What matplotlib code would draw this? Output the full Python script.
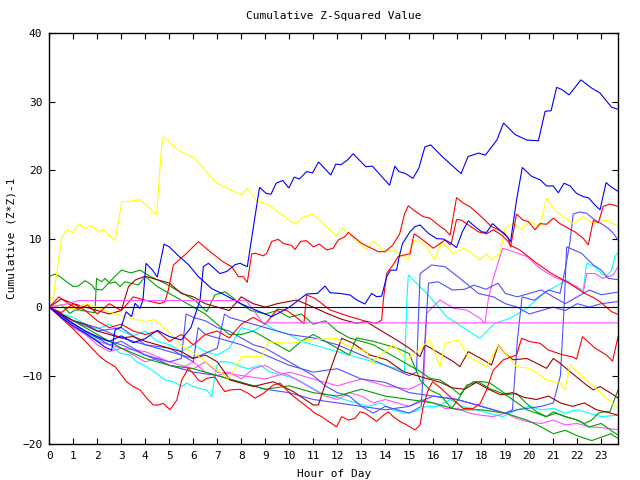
import matplotlib
matplotlib.use("Agg")
import matplotlib.pyplot as plt

title = "Cumulative Z-Squared Value"
xlabel = "Hour of Day"
ylabel = "Cumulative (Z*Z)-1"
x_ticks = list(range(24))
y_ticks = [-20, -10, 0, 10, 20, 30, 40]

blue_a_x = [0, 0.5, 1.0, 1.5, 2.0, 2.5, 3.0, 3.5, 4.0, 4.5, 5.0, 5.5, 5.9, 6.28, 6.42, 6.63, 7.11, 7.39, 7.74, 7.95, 8.25, 8.76, 9.04, 9.24, 9.45, 9.73, 9.98, 10.21, 10.42, 10.72, 10.97, 11.22, 11.73, 11.94, 12.15, 12.43, 12.66, 13.19, 13.46, 14.18, 14.40, 14.57, 14.85, 15.15, 15.40, 15.65, 15.89, 16.37, 17.16, 17.45, 17.89, 18.17, 18.65, 18.93, 19.41, 19.90, 20.38, 20.66, 20.91, 21.14, 21.35, 21.66, 22.15, 22.60, 22.94, 23.22, 23.43, 23.70]
blue_a_y = [0, -1.2, -2.4, -3.5, -4.3, -5.0, -4.2, -5.2, -4.6, -3.4, -4.3, -4.8, -3.0, 1.0, 5.9, 6.4, 4.9, 5.2, 6.2, 6.4, 5.9, 17.5, 16.6, 16.5, 18.1, 18.5, 17.4, 19.0, 18.7, 19.8, 19.6, 21.2, 19.3, 20.9, 20.8, 21.5, 22.4, 20.5, 20.6, 17.8, 20.6, 19.8, 19.5, 18.8, 20.3, 23.4, 23.7, 22.0, 19.5, 22.0, 22.5, 22.2, 24.4, 26.9, 25.2, 24.4, 24.3, 28.6, 28.7, 32.1, 31.8, 31.0, 33.2, 32.0, 31.3, 30.1, 29.2, 28.9]

blue_b_x = [0, 0.5, 1.0, 1.5, 2.0, 2.3, 2.6, 2.74, 3.0, 3.2, 3.43, 3.57, 3.78, 3.9, 4.03, 4.3, 4.5, 4.78, 5.0, 5.35, 5.8, 6.2, 6.77, 7.3, 7.95, 8.5, 8.92, 9.26, 9.6, 10.03, 10.72, 11.17, 11.49, 11.7, 12.11, 12.53, 12.81, 13.15, 13.43, 13.64, 13.85, 14.06, 14.22, 14.47, 14.58, 14.72, 15.03, 15.24, 15.45, 15.79, 16.14, 16.42, 16.70, 16.97, 17.21, 17.46, 17.74, 18.02, 18.22, 18.47, 18.78, 18.99, 19.22, 19.47, 19.71, 20.1, 20.45, 20.72, 21.0, 21.21, 21.45, 21.7, 21.97, 22.28, 22.46, 22.74, 22.95, 23.2, 23.36, 23.70]
blue_b_y = [0, -1.5, -2.8, -3.8, -5.0, -5.8, -6.3, -3.35, -2.9, -0.67, -1.4, 0.55, -0.2, 1.0, 6.4, 5.4, 4.4, 9.2, 8.8, 7.6, 6.2, 4.5, 2.7, 1.8, 0.55, -0.3, -0.9, -1.4, -0.8, 0.06, 1.91, 2.0, 3.08, 2.1, 2.0, 1.77, 1.04, 0.45, 2.0, 1.52, 1.6, 4.45, 5.4, 5.4, 7.4, 9.3, 11.0, 11.76, 12.0, 10.8, 10.0, 9.95, 9.4, 8.7, 11.0, 12.6, 11.75, 11.0, 10.9, 12.2, 11.2, 10.7, 9.56, 15.65, 20.4, 19.1, 18.6, 17.7, 17.7, 16.7, 18.1, 17.7, 16.6, 16.1, 16.0, 14.9, 14.2, 18.2, 17.7, 16.9]

red_1_x = [0, 0.4, 0.8, 1.2, 1.6, 2.0, 2.5, 3.0, 3.5, 4.0, 4.6, 4.82, 4.96, 5.17, 5.72, 6.21, 6.7, 7.25, 7.6, 7.88, 8.08, 8.25, 8.43, 8.57, 8.92, 9.06, 9.27, 9.54, 9.75, 10.1, 10.24, 10.47, 10.72, 11.0, 11.25, 11.56, 11.83, 12.04, 12.32, 12.46, 12.67, 13.02, 13.36, 13.71, 13.99, 14.3, 14.6, 14.8, 14.96, 15.17, 15.58, 15.86, 16.21, 16.49, 16.7, 16.97, 17.25, 17.53, 17.88, 18.15, 18.43, 18.78, 19.13, 19.22, 19.47, 19.75, 19.96, 20.24, 20.45, 20.72, 21.0, 21.28, 21.63, 21.9, 22.25, 22.46, 22.67, 22.88, 23.08, 23.36, 23.70]
red_1_y = [0, 1.5, 0.5, -0.3, 0.3, -1.0, 0.5, -0.5, 1.5, 1.0, 0.5, 0.8, 2.5, 6.15, 7.85, 9.56, 8.1, 6.6, 5.9, 4.45, 4.45, 3.6, 7.76, 7.86, 7.5, 7.86, 9.6, 9.9, 9.3, 9.0, 8.4, 9.6, 9.7, 8.8, 9.2, 8.35, 8.6, 9.8, 10.3, 10.9, 10.3, 9.3, 8.7, 8.1, 8.1, 9.0, 10.7, 13.6, 14.8, 14.2, 13.2, 13.0, 12.0, 11.3, 10.5, 16.0, 15.2, 14.65, 13.6, 12.7, 11.75, 11.2, 10.05, 8.8, 13.6, 12.7, 12.5, 11.3, 12.2, 12.1, 13.0, 12.2, 11.5, 11.0, 10.05, 9.07, 12.7, 12.3, 14.7, 15.06, 14.7]

red_2_x = [0, 0.5, 1.0, 1.5, 2.0, 2.5, 3.0, 3.5, 4.0, 4.5, 5.0, 5.5, 6.0, 6.5, 7.0, 7.5, 8.0, 8.5, 9.0, 9.5, 9.9, 10.3, 10.61, 10.72, 11.07, 11.7, 12.53, 13.22, 13.64, 13.85, 13.92, 14.06, 14.33, 14.54, 15.03, 15.2, 15.38, 15.72, 16.0, 16.25, 16.49, 16.7, 16.77, 16.97, 17.18, 17.46, 17.88, 18.22, 18.5, 18.85, 19.13, 19.2, 19.61, 20.24, 20.93, 21.56, 22.32, 22.67, 22.95, 23.43, 23.70]
red_2_y = [0, -0.8, 0.5, -0.5, -2.0, -3.0, -2.5, -3.5, -4.0, -3.5, -5.0, -4.0, -5.5, -4.0, -3.5, -4.5, -2.5, -1.5, -2.5, -0.3, -0.5, -1.5, -2.4, 1.77, 1.28, -0.42, -1.4, -2.1, -2.37, -1.9, 1.04, 4.94, 6.2, 7.4, 7.8, 10.7, 10.3, 9.4, 8.6, 9.2, 9.8, 9.1, 9.6, 12.8, 12.7, 12.0, 11.0, 10.7, 11.3, 10.5, 9.56, 9.07, 8.34, 6.6, 4.9, 3.7, 2.0, 1.4, 0.79, -0.67, -1.06]

red_3_x = [0, 0.5, 1.0, 1.5, 2.11, 2.39, 2.74, 2.95, 3.22, 3.5, 3.78, 4.06, 4.33, 4.54, 4.75, 5.03, 5.31, 5.52, 5.79, 6.0, 6.21, 6.35, 6.56, 6.9, 7.11, 7.32, 7.53, 7.95, 8.29, 8.57, 8.92, 9.33, 9.61, 9.75, 10.03, 10.38, 10.72, 11.07, 11.35, 11.63, 11.97, 12.18, 12.46, 12.74, 12.95, 13.15, 13.36, 13.64, 13.92, 14.13, 14.33, 14.61, 14.89, 15.24, 15.45, 15.58, 15.79, 15.97, 16.3, 16.7, 17.25, 17.67, 17.95, 18.22, 18.5, 18.92, 19.47, 19.68, 20.03, 20.45, 20.79, 21.42, 21.83, 21.97, 22.22, 22.74, 23.22, 23.47, 23.70]
red_3_y = [0, -1.6, -3.2, -5.0, -7.24, -7.97, -8.7, -9.67, -10.9, -11.6, -12.1, -13.3, -14.3, -14.3, -14.06, -15.0, -13.6, -10.65, -8.95, -9.68, -10.65, -10.9, -10.4, -10.2, -11.4, -12.35, -12.1, -12.0, -12.6, -13.3, -12.6, -11.4, -11.1, -11.6, -12.6, -13.6, -14.5, -15.5, -16.0, -16.7, -17.5, -16.0, -16.5, -16.25, -15.3, -15.5, -16.0, -16.7, -15.8, -15.3, -16.0, -16.7, -17.2, -17.95, -17.2, -14.5, -12.1, -10.9, -11.8, -13.1, -14.8, -14.8, -14.1, -12.1, -9.2, -7.7, -7.0, -4.56, -5.05, -5.29, -6.27, -7.0, -7.3, -7.6, -4.32, -6.0, -7.0, -7.9, -4.3]

yellow_1_x = [0, 0.15, 0.52, 0.72, 1.0, 1.25, 1.49, 1.77, 2.04, 2.25, 2.74, 3.02, 3.43, 3.78, 4.47, 4.68, 4.75, 5.1, 5.52, 6.0, 6.49, 6.97, 7.53, 8.02, 8.25, 8.64, 9.2, 9.61, 10.24, 10.52, 10.97, 11.97, 12.22, 12.42, 12.81, 13.22, 13.47, 13.71, 13.92, 14.2, 14.47, 14.96, 15.17, 15.45, 15.72, 16.07, 16.35, 16.56, 16.83, 17.25, 17.53, 17.95, 18.22, 18.43, 18.78, 18.99, 19.33, 19.68, 20.03, 20.45, 20.72, 21.14, 21.83, 22.25, 22.67, 22.95, 23.22, 23.5, 23.70]
yellow_1_y = [1.8, 1.0, 10.2, 11.3, 10.9, 12.2, 11.5, 11.9, 11.0, 11.3, 9.7, 15.4, 15.5, 15.7, 13.5, 23.5, 24.9, 23.8, 22.6, 21.9, 20.0, 18.1, 17.2, 16.4, 17.4, 15.6, 14.8, 13.7, 12.1, 13.0, 13.6, 10.4, 11.6, 10.9, 9.6, 8.4, 9.6, 9.1, 8.1, 8.4, 8.1, 6.9, 9.7, 9.6, 8.8, 6.9, 9.6, 8.8, 7.8, 8.6, 8.1, 6.9, 7.8, 6.9, 7.8, 11.5, 12.2, 11.3, 12.5, 11.8, 15.9, 13.9, 12.2, 13.2, 12.2, 12.5, 12.7, 12.2, 11.8]

yellow_2_x = [0, 0.5, 1.0, 1.5, 2.0, 2.46, 3.15, 3.99, 4.4, 4.89, 5.58, 6.14, 7.46, 7.53, 8.02, 8.85, 9.13, 10.0, 10.86, 11.97, 12.32, 13.22, 13.43, 13.71, 14.33, 14.89, 15.31, 15.86, 16.28, 16.49, 17.04, 17.46, 18.22, 18.71, 19.47, 20.03, 20.72, 21.28, 21.49, 21.7, 22.53, 23.22, 23.70]
yellow_2_y = [0, 0.3, -0.3, 0.5, 0.0, -0.67, -1.4, -2.13, -1.8, -3.35, -5.8, -7.0, -10.4, -10.2, -7.24, -7.24, -5.05, -5.3, -4.8, -4.56, -5.5, -6.5, -8.2, -7.24, -5.5, -7.7, -6.5, -4.8, -8.7, -5.3, -4.8, -7.24, -8.7, -5.5, -8.7, -8.95, -10.65, -11.1, -12.1, -8.46, -11.1, -13.3, -14.8]

mblue_1_x = [0, 1, 2, 3, 4, 5, 6, 7, 8, 9, 10, 11, 12, 13, 14, 15, 16, 17, 18, 19, 19.3, 19.5, 19.7, 20.2, 20.8, 21.28, 21.49, 21.7, 21.83, 22.11, 22.39, 22.74, 23.0, 23.29, 23.5, 23.70]
mblue_1_y = [0, -2.5, -4.5, -5.5, -7, -8.5, -9.5, -10, -11, -12, -12.5, -13.5, -14, -14.5, -15, -14.5, -13, -13.5, -14.5, -15.5, -15, -5, 1.5, 1.0, 2.5, 2.0, 5.4, 9.6, 13.6, 13.9, 13.7, 12.7, 12.2, 11.5, 10.8, 9.8]

mblue_2_x = [0, 1, 2, 3, 4, 5, 6, 6.2, 6.5, 7, 8, 9, 10, 11, 12, 13, 14, 15, 16, 17, 18, 19, 19.5, 20.5, 21.0, 21.3, 21.45, 21.56, 22.18, 22.67, 23.0, 23.29, 23.70]
mblue_2_y = [0, -2, -3.5, -3, -5.5, -6, -8, -3, -4, -4.5, -5.5, -7, -8.5, -9.5, -9, -10.5, -11, -12.5, -13, -13.5, -14.5, -15.5, -15, -14.5, -14, -10, 0, 8.8, 7.85, 6.15, 5.4, 4.2, 4.0]

mblue_3_x = [0, 0.5, 1, 1.5, 2, 2.5, 3, 3.5, 4, 4.5, 5, 5.5, 5.7, 6, 6.5, 7, 7.5, 8, 8.5, 9, 9.5, 10, 10.5, 11, 11.5, 12, 12.5, 13, 13.5, 14, 14.5, 15, 15.5, 15.65, 15.8, 16.2, 16.8, 17.3, 17.7, 18.2, 18.7, 19.0, 19.5, 20, 20.5, 21, 21.5, 22, 22.5, 23, 23.70]
mblue_3_y = [0, -1, -2.5, -3.5, -4.5, -5.5, -5, -6, -7, -7.5, -8, -7.5, -1, -1.5, -2, -3, -3.5, -4.5, -5.5, -6, -7, -8, -9, -10, -11.5, -12.5, -13, -14.5, -15.5, -14.5, -15, -15.5, -14.5, -5, 3.5, 3.7, 2.5, 2.6, 3.2, 2.6, 3.5, 2.0, 1.5, 2.0, 2.5, 1.5, 0.5, 1.5, 2.5, 1.8, 2.2]

mblue_4_x = [0, 1, 2, 3, 4, 5, 6, 7, 7.3, 7.5, 8, 9, 10, 11, 12, 13, 14, 15, 15.3, 15.45, 15.93, 16.49, 17.11, 17.88, 18.5, 19, 19.5, 20, 20.5, 21, 21.5, 22, 22.5, 23, 23.70]
mblue_4_y = [0, -2, -3, -4.5, -5.5, -6.5, -7.5, -6.0, -1.0, -1.5, -2.0, -3.0, -4.0, -4.5, -5.5, -7.0, -8.5, -10.0, -9.5, 4.9, 6.15, 5.9, 4.2, 2.0, 1.5, 0.5, 0.0, -1.0, -0.5, 0.0, -0.5, 0.5, 0.0, 0.5, 0.8]

green_1_x = [0, 0.24, 0.45, 0.72, 1.0, 1.21, 1.49, 1.77, 1.9, 2.2, 2.6, 3.0, 3.4, 3.78, 4.2, 4.8, 5.3, 6.07, 6.56, 6.9, 7.32, 7.95, 8.4, 9.0, 9.5, 10.0, 10.5, 11.0, 11.5, 12.0, 12.5, 13.0, 13.5, 14.0, 14.5, 15.0, 15.45, 15.86, 16.28, 16.7, 17.11, 17.39, 17.67, 18.08, 18.36, 18.78, 19.06, 19.47, 19.89, 20.31, 20.72, 21.0, 21.5, 22.0, 22.5, 23.0, 23.4, 23.70]
green_1_y = [4.5, 4.83, 4.44, 3.7, 3.0, 3.08, 3.86, 3.23, 2.6, 2.5, 4.0, 5.4, 5.0, 5.4, 4.5, 3.5, 2.5, 1.0, -0.67, 1.76, 2.25, 0.55, -0.5, -1.0, -0.5, -1.5, -1.0, -2.5, -2.0, -3.5, -4.5, -5.0, -5.5, -6.5, -7.5, -8.5, -9.4, -10.4, -10.65, -11.6, -12.8, -11.6, -10.9, -10.9, -11.1, -12.1, -12.8, -12.6, -14.1, -15.3, -16.0, -15.3, -16.0, -16.5, -17.5, -17.0, -18.0, -18.7]

green_2_x = [0, 0.5, 0.86, 1.07, 1.28, 1.63, 1.9, 1.97, 2.18, 2.32, 2.53, 2.74, 2.95, 3.15, 3.43, 3.71, 4.0, 4.5, 5.0, 5.5, 6.0, 6.5, 7.0, 7.5, 8.0, 8.5, 9.0, 9.5, 10.0, 10.5, 11.0, 11.5, 12.0, 12.5, 12.8, 13.5, 14.0, 14.5, 15.0, 15.45, 15.86, 16.28, 16.77, 17.11, 17.39, 17.88, 18.4, 18.8, 19.1, 19.5, 19.9, 20.3, 20.7, 21.1, 21.5, 22.0, 22.3, 22.6, 22.88, 23.1, 23.36, 23.55, 23.70]
green_2_y = [0, 0.3, -0.91, -0.43, -0.43, -0.67, -0.82, 4.2, 3.7, 4.2, 3.47, 3.7, 3.0, 3.7, 3.47, 3.23, 4.5, 3.0, 2.0, 1.0, 0.0, -1.0, -2.5, -4.0, -4.0, -3.5, -4.5, -5.5, -6.5, -5.0, -4.0, -5.0, -6.0, -7.0, -4.5, -5.0, -5.5, -6.0, -6.8, -10.65, -12.1, -12.8, -14.8, -13.1, -11.4, -10.9, -12.0, -12.5, -13.0, -14.0, -15.0, -15.5, -16.0, -15.5, -16.0, -16.5, -17.0, -16.5, -15.5, -15.3, -15.3, -13.5, -12.1]

green_3_x = [0, 1, 2, 3, 4, 5, 6, 7, 8, 9, 10, 11, 12, 13, 14, 15, 16, 17, 18, 19, 19.9, 20.5, 21, 21.5, 22, 22.6, 23, 23.4, 23.70]
green_3_y = [0, -2, -4, -6, -7.5, -8.5, -9, -10, -11, -12, -11.5, -12.5, -13, -12, -13, -13.5, -14, -15, -15, -15.5, -16.5, -17.5, -18.5, -18.0, -18.8, -19.5, -19, -18.5, -19.2]

cyan_1_x = [0, 0.5, 1.0, 1.5, 2.11, 2.53, 2.95, 3.36, 3.64, 4.06, 4.47, 4.82, 5.17, 5.52, 5.72, 6.0, 6.28, 6.56, 6.77, 6.84, 6.97, 7.11, 7.39, 7.67, 7.95, 8.3, 8.8, 9.2, 9.8, 10.3, 10.8, 11.3, 11.8, 12.3, 12.8, 13.3, 13.8, 14.3, 14.8, 15.3, 15.7, 16.2, 16.7, 17.2, 17.8, 18.3, 18.9, 19.5, 20.0, 20.5, 21.0, 21.5, 22.0, 22.5, 23.0, 23.70]
cyan_1_y = [0, -1.3, -2.5, -3.6, -5.05, -5.5, -6.75, -7.0, -7.97, -8.7, -9.7, -10.65, -10.9, -11.6, -11.1, -11.6, -11.9, -12.1, -13.1, -11.4, -8.7, -8.0, -8.0, -8.2, -8.7, -9.0, -8.5, -9.5, -10.0, -10.5, -11.5, -12.5, -13.0, -13.5, -14.0, -14.5, -14.0, -15.0, -15.5, -15.2, -14.5, -14.5, -13.5, -14.5, -15.0, -15.5, -16.0, -15.0, -14.5, -15.0, -14.8, -15.5, -15.0, -15.5, -16.0, -15.8]

cyan_2_x = [0, 0.5, 1, 1.5, 2, 2.5, 3, 3.5, 4, 4.5, 5, 5.5, 6, 6.5, 7.0, 7.5, 8.0, 8.5, 9.0, 9.5, 10, 10.5, 11, 11.5, 12, 12.5, 13, 13.5, 14.0, 14.5, 14.8, 14.9, 14.96, 15.3, 15.65, 15.86, 16.56, 17.39, 17.95, 18.57, 19.2, 19.9, 20.6, 21.56, 21.9, 22.25, 22.39, 22.74, 23.0, 23.2, 23.43, 23.57, 23.70]
cyan_2_y = [0, -1.0, -1.5, -2.5, -3.2, -2.5, -3.5, -4.2, -3.5, -5, -5.5, -6.5, -5.5, -6.5, -7.0, -6.0, -3.0, -3.5, -2.5, -3.5, -4.0, -5.0, -5.5, -6.0, -6.5, -7.0, -7.5, -8.0, -8.5, -9.0, -9.5, 1.0, 4.7, 3.5, 2.3, 1.5, -1.4, -3.3, -4.56, -2.37, -1.64, -0.18, 2.0, 3.96, 3.0, 2.5, 6.4, 5.9, 4.9, 4.45, 5.4, 7.4, 7.95]

dred_1_x = [0, 0.5, 1.0, 1.5, 2.0, 2.5, 3.0, 3.3, 3.6, 4.0, 4.5, 5.0, 5.5, 6.0, 6.5, 7.0, 7.5, 8.0, 8.5, 9.0, 9.5, 10.31, 11.0, 11.56, 12.2, 12.81, 13.2, 13.78, 14.47, 15.0, 15.45, 15.65, 16.14, 16.84, 17.11, 17.46, 18.08, 18.43, 18.71, 18.99, 19.33, 19.9, 20.31, 20.72, 21.0, 21.28, 21.97, 22.39, 22.67, 22.95, 23.5, 23.70]
dred_1_y = [0, 1.2, 0.5, 0.0, -0.5, -1.0, -0.5, 3.0, 4.0, 4.5, 4.0, 3.5, 2.0, 1.5, 0.5, 0.0, -0.5, 1.5, 0.5, 0.0, 0.5, 1.04, 0.0, -0.91, -1.8, -2.37, -2.1, -3.35, -4.8, -6.0, -7.24, -5.5, -6.5, -7.97, -8.7, -6.5, -7.7, -8.46, -5.5, -6.75, -7.7, -7.5, -8.2, -8.95, -7.5, -8.2, -10.2, -11.4, -12.1, -11.6, -12.8, -13.3]

dred_2_x = [0, 0.5, 1.0, 1.5, 2.0, 2.5, 3.0, 3.5, 4.0, 4.5, 5.0, 5.5, 6.0, 6.5, 7.0, 7.53, 8.5, 9.33, 10.17, 11.0, 11.21, 11.56, 12.18, 12.67, 13.36, 14.06, 14.75, 15.3, 15.8, 16.3, 16.8, 17.3, 17.8, 18.3, 18.8, 19.3, 19.8, 20.3, 20.8, 21.3, 21.8, 22.3, 22.8, 23.3, 23.70]
dred_2_y = [0, -1.0, -2.0, -2.5, -3.5, -4.0, -4.5, -4.3, -5.0, -5.5, -6.0, -6.5, -7.5, -7.0, -8.0, -10.65, -11.6, -10.9, -12.35, -14.3, -14.3, -10.65, -4.56, -5.3, -7.0, -7.7, -9.4, -10.0, -10.5, -11.0, -11.8, -12.0, -11.0, -12.0, -12.8, -12.5, -13.2, -13.5, -13.0, -14.0, -14.5, -14.0, -15.0, -15.4, -15.8]

mag_flat_x = [0, 0.8, 1.2, 8.2, 8.9, 23.70]
mag_flat_y = [0, 0.5, 0.95, 0.95, -2.3, -2.3]

mag_2_x = [0, 1, 2, 3, 4, 5, 6, 6.5, 7, 8, 9, 10, 11, 12, 13, 14, 15, 15.6, 15.72, 16.28, 16.84, 17.39, 17.95, 18.15, 18.29, 18.5, 18.89, 19.33, 19.89, 20.45, 21.0, 21.56, 22.0, 22.25, 22.39, 22.74, 23.08, 23.5, 23.70]
mag_2_y = [0, -3, -5, -6, -6.5, -8, -9, -8, -9.5, -10, -10.5, -9.5, -10.5, -11.5, -10.5, -11.5, -12, -11, -0.91, 1.04, -0.18, -0.42, -1.64, -2.37, 1.04, 4.2, 8.6, 8.1, 7.4, 5.66, 4.45, 3.7, 3.0, 2.0, 4.9, 4.9, 4.2, 4.7, 5.9]

mag_3_x = [0, 0.5, 1, 1.5, 2, 2.5, 3, 3.5, 4, 4.5, 5, 5.5, 6, 6.5, 7, 7.5, 8, 8.5, 9, 9.5, 10, 10.5, 11, 11.5, 12, 12.5, 13, 13.5, 14, 14.5, 15, 15.5, 16, 16.5, 17, 17.5, 18, 18.5, 19, 19.5, 20, 20.5, 21, 21.5, 22, 22.5, 23, 23.70]
mag_3_y = [0, -1.5, -2.5, -4, -5.5, -6.5, -6.0, -7.0, -8.0, -7.5, -8.5, -9.0, -8.0, -9.5, -10, -9.5, -10.5, -9.0, -8.5, -9.5, -10, -11, -12, -13, -13.5, -12.5, -13, -14, -13.5, -14.0, -14.5, -13.5, -14, -14.8, -14.8, -15.5, -15.8, -16.0, -15.5, -16.3, -16.8, -17.0, -16.5, -17.2, -17.0, -17.5, -17.6, -17.9]

series = [
    (cyan_1_x, cyan_1_y, "#00ffff"),
    (cyan_2_x, cyan_2_y, "#00ffff"),
    (mag_3_x, mag_3_y, "#ff50ff"),
    (mag_2_x, mag_2_y, "#ff50ff"),
    (mblue_1_x, mblue_1_y, "#5050ff"),
    (mblue_2_x, mblue_2_y, "#5050ff"),
    (mblue_3_x, mblue_3_y, "#5050ff"),
    (mblue_4_x, mblue_4_y, "#5050ff"),
    (green_3_x, green_3_y, "#00a000"),
    (green_2_x, green_2_y, "#00a000"),
    (green_1_x, green_1_y, "#00a000"),
    (dred_1_x, dred_1_y, "#a00000"),
    (dred_2_x, dred_2_y, "#a00000"),
    (yellow_2_x, yellow_2_y, "#ffff00"),
    (yellow_1_x, yellow_1_y, "#ffff00"),
    (red_3_x, red_3_y, "#ff0000"),
    (red_2_x, red_2_y, "#ff0000"),
    (red_1_x, red_1_y, "#ff0000"),
    (blue_b_x, blue_b_y, "#0000ff"),
    (blue_a_x, blue_a_y, "#0000ff"),
]

FONT = "DejaVu Sans Mono"
fig = plt.figure(figsize=(6.4, 4.8), dpi=100)
ax = fig.add_axes([49.3 / 640, 36 / 480, (618.3 - 49.3) / 640, (444 - 33.3) / 480])

for xs, ys, col in series:
    ax.plot(xs, ys, color=col, linewidth=0.8, solid_joinstyle="miter")
ax.plot(mag_flat_x, mag_flat_y, color="#ff50ff", linewidth=0.8)
ax.axhline(0, color="#0000a0", linewidth=0.8)

ax.set_xlim(0, 23.71)
ax.set_ylim(-20, 40)
ax.set_xticks(x_ticks)
ax.set_yticks(y_ticks)
ax.tick_params(direction="in", length=4, width=0.8, top=True, right=True,
               labelsize=8, pad=5)
for lab in ax.get_xticklabels() + ax.get_yticklabels():
    lab.set_family(FONT)
for s in ax.spines.values():
    s.set_linewidth(1.0)
    s.set_color("black")
ax.set_title(title, fontsize=8, family=FONT, pad=10)
ax.set_xlabel(xlabel, fontsize=8, family=FONT, labelpad=6)
ax.set_ylabel(ylabel, fontsize=8, family=FONT, labelpad=4)

fig.savefig("out.png", dpi=100)
